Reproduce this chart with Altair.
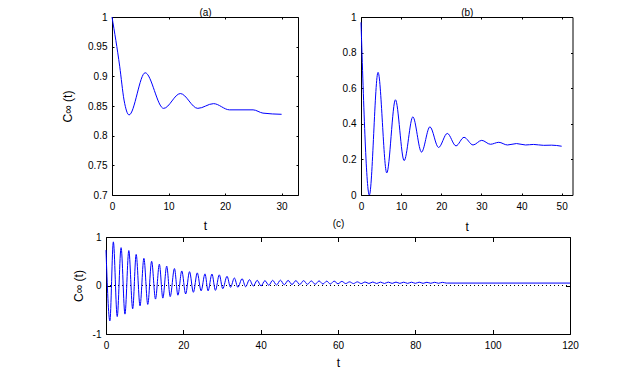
import altair as alt
import pandas as pd

# ---------------- data ----------------
# panel (a)
ta = [0, 1.36, 2.13, 3.02, 5.87, 9.13, 12.09, 15.17, 17.96, 20.8, 24.96, 26.7, 30.0]
va = [1.0, 0.917, 0.860, 0.835, 0.906, 0.846, 0.871, 0.846, 0.854, 0.8435, 0.8435, 0.838, 0.836]

# panel (b)
tb = [0, 2.08, 4.25, 6.42, 8.58, 10.75, 12.92, 15.08, 17.17, 19.33,
      21.5, 23.67, 25.67, 27.92, 30.08, 32.25, 34.33, 36.5, 38.75,
      41.0, 43.0, 45.5, 47.5, 50.0]
vb = [0.97, 0.0, 0.689, 0.124, 0.535, 0.193, 0.439, 0.241, 0.383, 0.267,
      0.346, 0.276, 0.324, 0.281, 0.307, 0.285, 0.296, 0.281, 0.289,
      0.281, 0.284, 0.279, 0.28, 0.274]

# panel (c)
tc = [0, 1.0, 1.9, 2.9, 3.9, 4.9, 5.9, 6.9, 7.8, 8.8,
      9.8, 10.8, 11.8, 12.8, 13.8, 14.7, 15.7, 16.6, 17.7, 18.6,
      19.6, 20.6, 21.6, 22.6, 23.6, 24.6, 25.6, 26.4, 27.4, 28.3,
      29.3, 30.2, 31.3, 32.2, 33.2, 34.1, 35.2, 36.1, 37.1, 38.1,
      39.1, 40.1, 41.1, 42.1, 43.1, 44.1, 45.1, 46.1, 47.1, 48.1,
      49.1, 50.1, 51.1, 52.1, 53.1, 54.1, 55.1, 56.1, 57.1, 58.0,
      59.0, 60.0, 61.0, 62.0, 63.0, 64.0, 65.0, 66.0, 67.0, 68.0,
      69.0, 70.0, 71.0, 72.0, 73.0, 74.0, 75.0, 76.0, 77.0, 78.0,
      79.0, 80.0, 81.0, 82.0, 83.0, 84.0, 85.0, 86.0, 87.0, 88.0,
      88.4, 120.0]
vc = [0.73, -0.73, 0.90, -0.64, 0.78, -0.59, 0.72, -0.48, 0.64, -0.42,
      0.56, -0.39, 0.50, -0.28, 0.44, -0.26, 0.40, -0.23, 0.35, -0.20,
      0.30, -0.175, 0.285, -0.14, 0.26, -0.11, 0.24, -0.11, 0.237, -0.10,
      0.22, -0.066, 0.19, -0.037, 0.155, -0.037, 0.14, -0.025, 0.12, -0.01,
      0.107, -0.01, 0.10, 0.004, 0.107, 0.01, 0.11, 0.015, 0.105, 0.02,
      0.10, 0.02, 0.10, 0.025, 0.095, 0.025, 0.095, 0.03, 0.09, 0.03,
      0.09, 0.035, 0.085, 0.04, 0.075, 0.04, 0.075, 0.04, 0.072, 0.042,
      0.072, 0.042, 0.07, 0.042, 0.07, 0.044, 0.07, 0.044, 0.068, 0.044,
      0.068, 0.045, 0.068, 0.045, 0.066, 0.046, 0.066, 0.046, 0.065, 0.05,
      0.05, 0.05]

xticks_a = [0, 10, 20, 30]
yticks_a = [0.7, 0.75, 0.8, 0.85, 0.9, 0.95, 1.0]
xticks_b = [0, 10, 20, 30, 40, 50]
yticks_b = [0, 0.2, 0.4, 0.6, 0.8, 1.0]
xticks_c = [0, 20, 40, 60, 80, 100, 120]
yticks_c = [-1, 0, 1]
zero_line = {"x0": [0], "x1": [120], "y": [0]}

W, H = 617, 361
FONT = "Liberation Sans"
MINUS = "replace(datum.label, '\u2212', '-')"


def panel(t, v, xdom, ydom, L, R, T, B, xticks, yticks, tick, title, title_y,
          ylabel, ylabel_x, xlabel_y, extra=None):
    df = pd.DataFrame({"t": t, "v": v})
    dummy = pd.DataFrame({"t": xdom, "v": ydom})
    xs = alt.Scale(domain=xdom, range=[L, R], nice=False, zero=False)
    ys = alt.Scale(domain=ydom, range=[B, T], nice=False, zero=False)

    line = alt.Chart(df).mark_line(color="#0000ff", strokeWidth=1, interpolate="monotone").encode(
        x=alt.X("t:Q", scale=xs, axis=alt.Axis(
            orient="bottom", offset=B - H, values=xticks, ticks=False, labelPadding=6.5,
            format="d", title="t", titleY=xlabel_y, titleBaseline="middle", titleFontSize=12)),
        y=alt.Y("v:Q", scale=ys, axis=alt.Axis(
            orient="left", offset=-L, values=yticks, ticks=False, labelPadding=5,
            format="~g", labelExpr=MINUS, title=ylabel, titleX=ylabel_x,
            titleBaseline="middle", titleFontSize=12)),
    )
    # inward ticks on bottom and left edges
    ticks1 = alt.Chart(dummy).mark_point(opacity=0).encode(
        x=alt.X("t:Q", scale=xs, axis=alt.Axis(
            orient="top", offset=-B, values=xticks, tickSize=tick, labels=False,
            domain=False, title="")),
        y=alt.Y("v:Q", scale=ys, axis=alt.Axis(
            orient="right", offset=L - W, values=yticks, tickSize=tick, labels=False,
            domain=False, title="")),
    )
    # top and right frame lines with inward ticks, panel title
    ticks2 = alt.Chart(dummy).mark_point(opacity=0).encode(
        x=alt.X("t:Q", scale=xs, axis=alt.Axis(
            orient="bottom", offset=T - H, values=xticks, tickSize=tick, labels=False,
            domain=True, title=title, titleY=title_y, titleBaseline="alphabetic",
            titleFontSize=10)),
        y=alt.Y("v:Q", scale=ys, axis=alt.Axis(
            orient="left", offset=-R, values=yticks, tickSize=tick, labels=False,
            domain=True, title="")),
    )
    layers = [line, ticks1, ticks2]
    if extra is not None:
        zl = pd.DataFrame(extra)
        rule = alt.Chart(zl).mark_rule(color="black", strokeWidth=1, strokeDash=[1, 3]).encode(
            x=alt.X("x0:Q", scale=xs, axis=None),
            x2="x1:Q",
            y=alt.Y("y:Q", scale=ys, axis=None),
        )
        layers.insert(0, rule)
    return layers


la = panel(ta, va, [0, 32.9], [0.7, 1.0], 104, 290, 9, 187, xticks_a, yticks_a, 2,
           "(a)", -1.8, "C\u221e (t)", -45, 30)
lb = panel(tb, vb, [0, 52.7], [0, 1.0], 353, 564.5, 9, 187, xticks_b, yticks_b, 2,
           "(b)", -1.8, "", -45, 31)
lc = panel(tc, vc, [0, 120], [-1, 1], 98, 562, 229, 326, xticks_c, yticks_c, 4.5,
           "(c)", -11, "C\u221e (t)", -28, 28, extra=zero_line)

chart = alt.layer(*(la + lb + lc)).resolve_scale(
    x="independent", y="independent"
).resolve_axis(
    x="independent", y="independent"
).properties(
    width=W, height=H, autosize="none", padding=0
).configure_view(
    stroke="transparent"
).configure_axis(
    grid=False, labelFont=FONT, titleFont=FONT, labelFontSize=10,
    titleFontWeight="normal", labelColor="black", titleColor="black",
    domainColor="black", tickColor="black", domainWidth=1, tickWidth=1,
    labelFlush=False, labelOverlap=False
)

chart.save("out.html", embed_options={"renderer": "svg", "actions": False})
